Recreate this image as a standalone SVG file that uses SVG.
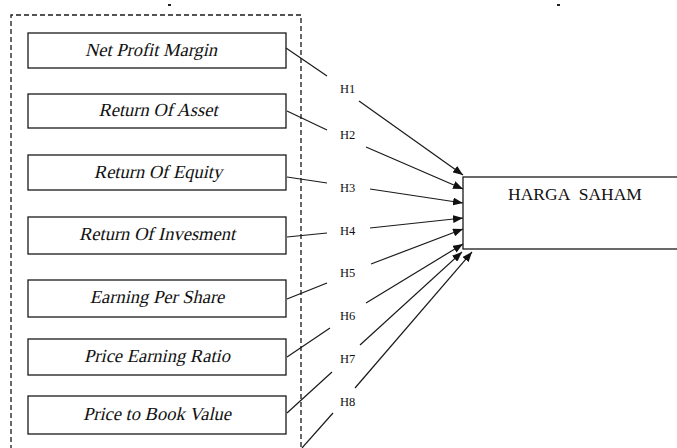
<svg xmlns="http://www.w3.org/2000/svg" width="677" height="448" viewBox="0 0 677 448">
<style>
.box{fill:#fff;stroke:#1a1a1a;stroke-width:1.3}
.lbl{font-family:"Liberation Serif","Times New Roman",serif;font-size:18.5px;fill:#111;text-anchor:middle}
.h{font-family:"Liberation Serif",serif;font-size:12.5px;fill:#111}
.ln{stroke:#1a1a1a;stroke-width:1.2;fill:none}
</style>
<defs>
<marker id="ah" viewBox="0 0 10 8" refX="10" refY="4" markerWidth="10" markerHeight="8" markerUnits="userSpaceOnUse" orient="auto">
<path d="M0,0 L10,4 L0,8 Z" fill="#111"/>
</marker>
</defs>
<rect width="677" height="448" fill="#fff"/>
<rect x="168" y="4" width="3" height="2" fill="#222"/>
<rect x="557" y="4" width="3" height="2" fill="#222"/>
<path d="M11,450 V15 H301 V450" fill="none" stroke="#1a1a1a" stroke-width="1.3" stroke-dasharray="5,3"/>
<g id="n1"><rect class="box" x="28" y="33" width="258" height="35"/><text class="lbl" transform="translate(151,56) skewX(-13)">Net Profit Margin</text></g>
<g id="n2"><rect class="box" x="28" y="94" width="258" height="34"/><text class="lbl" transform="translate(158,116) skewX(-13)">Return Of Asset</text></g>
<g id="n3"><rect class="box" x="28" y="155" width="258" height="35"/><text class="lbl" transform="translate(158,178) skewX(-13)">Return Of Equity</text></g>
<g id="n4"><rect class="box" x="28" y="217" width="258" height="37"/><text class="lbl" transform="translate(157,240) skewX(-13)">Return Of Invesment</text></g>
<g id="n5"><rect class="box" x="28" y="280" width="258" height="37"/><text class="lbl" transform="translate(157,303) skewX(-13)">Earning Per Share</text></g>
<g id="n6"><rect class="box" x="28" y="339" width="258" height="36"/><text class="lbl" transform="translate(157,362) skewX(-13)">Price Earning Ratio</text></g>
<g id="n7"><rect class="box" x="28" y="396" width="258" height="38"/><text class="lbl" transform="translate(157,420) skewX(-13)">Price to Book Value</text></g>
<g id="target"><rect class="box" x="463" y="177" width="220" height="72"/><text x="575" y="200" font-family="Liberation Serif,serif" font-size="17.5" fill="#111" text-anchor="middle" word-spacing="5">HARGA SAHAM</text></g>
<g id="connectors">
<line class="ln" x1="286" y1="48" x2="327" y2="76"/>
<line class="ln" x1="359" y1="101" x2="463" y2="175" marker-end="url(#ah)"/>
<line class="ln" x1="287" y1="111" x2="327" y2="130"/>
<line class="ln" x1="366" y1="147" x2="463" y2="189" marker-end="url(#ah)"/>
<line class="ln" x1="287" y1="177" x2="327" y2="183"/>
<line class="ln" x1="370" y1="189" x2="463" y2="203" marker-end="url(#ah)"/>
<line class="ln" x1="287" y1="237" x2="327" y2="233"/>
<line class="ln" x1="370" y1="228" x2="463" y2="218" marker-end="url(#ah)"/>
<line class="ln" x1="287" y1="299" x2="327" y2="283"/>
<line class="ln" x1="371" y1="264" x2="463" y2="229" marker-end="url(#ah)"/>
<line class="ln" x1="287" y1="357" x2="330" y2="328"/>
<line class="ln" x1="366" y1="303" x2="463" y2="244" marker-end="url(#ah)"/>
<line class="ln" x1="287" y1="413" x2="332" y2="372"/>
<line class="ln" x1="360" y1="345" x2="462" y2="252" marker-end="url(#ah)"/>
<line class="ln" x1="302" y1="448" x2="333" y2="413"/>
<line class="ln" x1="355" y1="388" x2="472" y2="252" marker-end="url(#ah)"/>
</g>
<g id="labels">
<text class="h" x="340" y="93">H1</text>
<text class="h" x="340" y="139">H2</text>
<text class="h" x="340" y="192">H3</text>
<text class="h" x="340" y="235">H4</text>
<text class="h" x="340" y="277">H5</text>
<text class="h" x="340" y="320">H6</text>
<text class="h" x="340" y="363">H7</text>
<text class="h" x="340" y="406">H8</text>
</g>
</svg>
